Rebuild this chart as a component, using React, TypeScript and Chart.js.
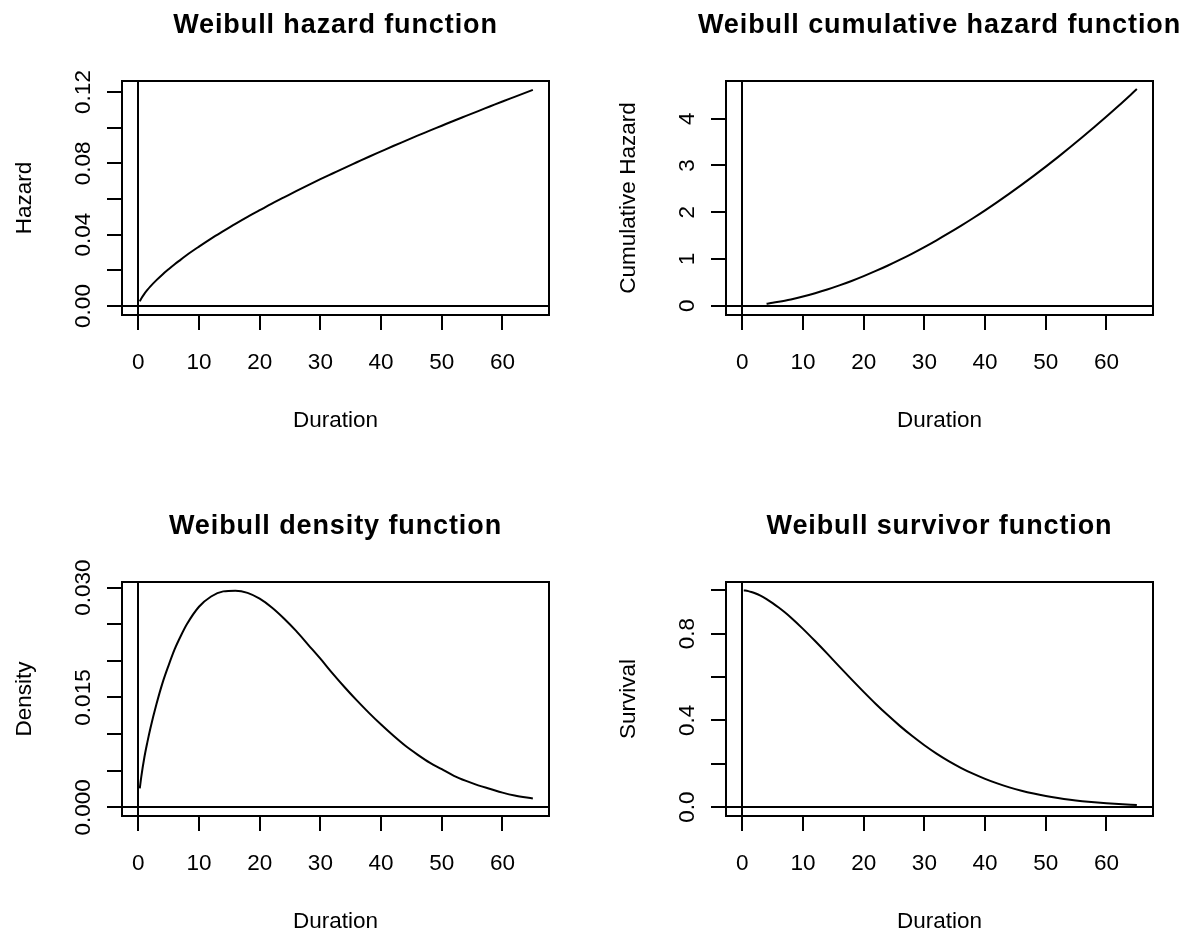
import React, { useEffect, useRef } from "react";
import { Chart, registerables } from "chart.js";

Chart.register(...registerables);

// ---- data ----
const durations = [0.25, 0.5, 1, 1.5, 2, 3, 4, 5, 6, 7, 8, 10, 12, 14, 16, 18, 20, 22, 24, 26, 28, 30, 32, 34, 36, 38, 40, 42, 44, 46, 48, 50, 52, 54, 56, 58, 60, 62, 65];

const hazardValues = [0.0026, 0.0042, 0.0068, 0.009, 0.011, 0.0145, 0.0177, 0.0206, 0.0234, 0.026, 0.0286, 0.0333, 0.0378, 0.042, 0.0461, 0.05, 0.0537, 0.0574, 0.0609, 0.0644, 0.0678, 0.0711, 0.0743, 0.0775, 0.0806, 0.0837, 0.0867, 0.0897, 0.0926, 0.0955, 0.0983, 0.1011, 0.1039, 0.1066, 0.1093, 0.112, 0.1147, 0.1173, 0.1212];

const densityValues = [0.0026, 0.0042, 0.0068, 0.0089, 0.0108, 0.0141, 0.017, 0.0194, 0.0216, 0.0234, 0.025, 0.0274, 0.0288, 0.0295, 0.0296, 0.0293, 0.0285, 0.0273, 0.0258, 0.0241, 0.0222, 0.0203, 0.0183, 0.0164, 0.0146, 0.0129, 0.0113, 0.0098, 0.0084, 0.0072, 0.0061, 0.0052, 0.0043, 0.0036, 0.003, 0.0025, 0.002, 0.0016, 0.0012];

const survivalValues = [0.9996, 0.9988, 0.996, 0.9921, 0.9872, 0.9747, 0.9589, 0.9408, 0.9204, 0.8985, 0.8746, 0.822, 0.7657, 0.7075, 0.6479, 0.5892, 0.5315, 0.4757, 0.4232, 0.3734, 0.3276, 0.2854, 0.2468, 0.2122, 0.1814, 0.1541, 0.1302, 0.1092, 0.0911, 0.0755, 0.0623, 0.0511, 0.0417, 0.0338, 0.0273, 0.0219, 0.0175, 0.0139, 0.0097];

const cumDurations = [4, 5, 6, 7, 8, 10, 12, 14, 16, 18, 20, 22, 24, 26, 28, 30, 32, 34, 36, 38, 40, 42, 44, 46, 48, 50, 52, 54, 56, 58, 60, 62, 65];

const cumHazardValues = [0.042, 0.061, 0.083, 0.107, 0.134, 0.196, 0.267, 0.346, 0.434, 0.529, 0.632, 0.743, 0.86, 0.985, 1.116, 1.254, 1.399, 1.55, 1.707, 1.87, 2.039, 2.215, 2.396, 2.583, 2.776, 2.974, 3.178, 3.387, 3.601, 3.821, 4.047, 4.277, 4.633];

// ---- tick values / labels ----
const xTicks = [0, 10, 20, 30, 40, 50, 60];
const xTickLabels = ["0", "10", "20", "30", "40", "50", "60"];

const hazardTicks = [0, 0.02, 0.04, 0.06, 0.08, 0.1, 0.12];
const hazardTickLabels = ["0.00", "", "0.04", "", "0.08", "", "0.12"];

const cumTicks = [0, 1, 2, 3, 4];
const cumTickLabels = ["0", "1", "2", "3", "4"];

const densityTicks = [0, 0.005, 0.01, 0.015, 0.02, 0.025, 0.03];
const densityTickLabels = ["0.000", "", "", "0.015", "", "", "0.030"];

const survivalTicks = [0, 0.2, 0.4, 0.6, 0.8, 1.0];
const survivalTickLabels = ["0.0", "", "0.4", "", "0.8", ""];

const X_MIN = -2.68;
const X_MAX = 67.66;

const FONT = '"Liberation Sans", Arial, Helvetica, sans-serif';

type PanelSpec = {
  title: string;
  yTitle: string;
  xs: number[];
  ys: number[];
  yMin: number;
  yMax: number;
  yTicks: number[];
  yLabels: string[];
  left: number;
  top: number;
  w: number;
  h: number;
  pad: { left: number; top: number; right: number; bottom: number };
};

const panels: PanelSpec[] = [
  {
    title: "Weibull hazard function",
    yTitle: "Hazard",
    xs: durations,
    ys: hazardValues,
    yMin: -0.00505,
    yMax: 0.12617,
    yTicks: hazardTicks,
    yLabels: hazardTickLabels,
    left: 0,
    top: 0,
    w: 597,
    h: 468,
    pad: { left: 122, top: 81, right: 48, bottom: 153 },
  },
  {
    title: "Weibull cumulative hazard function",
    yTitle: "Cumulative Hazard",
    xs: cumDurations,
    ys: cumHazardValues,
    yMin: -0.199,
    yMax: 4.806,
    yTicks: cumTicks,
    yLabels: cumTickLabels,
    left: 597,
    top: 0,
    w: 596,
    h: 468,
    pad: { left: 129, top: 81, right: 40, bottom: 153 },
  },
  {
    title: "Weibull density function",
    yTitle: "Density",
    xs: durations,
    ys: densityValues,
    yMin: -0.00119,
    yMax: 0.03078,
    yTicks: densityTicks,
    yLabels: densityTickLabels,
    left: 0,
    top: 468,
    w: 597,
    h: 468,
    pad: { left: 122, top: 114, right: 48, bottom: 120 },
  },
  {
    title: "Weibull survivor function",
    yTitle: "Survival",
    xs: durations,
    ys: survivalValues,
    yMin: -0.041,
    yMax: 1.038,
    yTicks: survivalTicks,
    yLabels: survivalTickLabels,
    left: 597,
    top: 468,
    w: 596,
    h: 468,
    pad: { left: 129, top: 114, right: 40, bottom: 120 },
  },
];

function makeDecorPlugin(p: PanelSpec) {
  return {
    id: "rBaseDecor",
    afterDatasetsDraw(chart: any) {
      const { ctx, chartArea: a, scales } = chart;
      const xs = scales.x;
      const ys = scales.y;
      ctx.save();
      ctx.strokeStyle = "#000";
      ctx.lineWidth = 2;
      ctx.lineCap = "butt";

      // reference lines at x = 0 and y = 0
      const x0 = Math.round(xs.getPixelForValue(0));
      const y0 = Math.round(ys.getPixelForValue(0));
      ctx.beginPath();
      ctx.moveTo(x0, a.top);
      ctx.lineTo(x0, a.bottom);
      ctx.moveTo(a.left, y0);
      ctx.lineTo(a.right, y0);
      ctx.stroke();

      // box
      ctx.strokeRect(a.left, a.top, a.right - a.left, a.bottom - a.top);

      // tick marks
      ctx.beginPath();
      xTicks.forEach((v) => {
        const px = Math.round(xs.getPixelForValue(v));
        ctx.moveTo(px, a.bottom);
        ctx.lineTo(px, a.bottom + 15);
      });
      p.yTicks.forEach((v) => {
        const py = Math.round(ys.getPixelForValue(v));
        ctx.moveTo(a.left - 15, py);
        ctx.lineTo(a.left, py);
      });
      ctx.stroke();

      // tick labels
      ctx.fillStyle = "#000";
      ctx.font = `22.5px ${FONT}`;
      ctx.textAlign = "center";
      ctx.textBaseline = "alphabetic";
      xTicks.forEach((v, i) => {
        ctx.fillText(xTickLabels[i], xs.getPixelForValue(v), a.bottom + 54);
      });
      p.yTicks.forEach((v, i) => {
        const lab = p.yLabels[i];
        if (!lab) return;
        ctx.save();
        ctx.translate(a.left - 32.5, ys.getPixelForValue(v));
        ctx.rotate(-Math.PI / 2);
        ctx.fillText(lab, 0, 0);
        ctx.restore();
      });

      // axis titles
      ctx.fillText("Duration", (a.left + a.right) / 2, a.bottom + 112);
      ctx.save();
      ctx.translate(a.left - 91.5, (a.top + a.bottom) / 2);
      ctx.rotate(-Math.PI / 2);
      ctx.fillText(p.yTitle, 0, 0);
      ctx.restore();

      // main title
      ctx.font = `bold 27px ${FONT}`;
      (ctx as any).letterSpacing = "0.9px";
      ctx.fillText(p.title, (a.left + a.right) / 2, a.top - 48);
      ctx.restore();
    },
  };
}

function Panel({ p }: { p: PanelSpec }) {
  const ref = useRef<HTMLCanvasElement | null>(null);
  useEffect(() => {
    if (!ref.current) return;
    const chart = new Chart(ref.current, {
      type: "line",
      data: {
        datasets: [
          {
            data: p.xs.map((x, i) => ({ x, y: p.ys[i] })),
            borderColor: "#000",
            borderWidth: 2,
            pointRadius: 0,
            cubicInterpolationMode: "monotone",
            fill: false,
          } as any,
        ],
      },
      options: {
        animation: false,
        responsive: false,
        devicePixelRatio: 1,
        events: [],
        layout: { padding: p.pad },
        plugins: {
          legend: { display: false },
          tooltip: { enabled: false },
          title: { display: false },
        },
        scales: {
          x: { type: "linear", min: X_MIN, max: X_MAX, display: false },
          y: { type: "linear", min: p.yMin, max: p.yMax, display: false },
        },
      },
      plugins: [makeDecorPlugin(p)],
    });
    return () => chart.destroy();
  }, [p]);
  return (
    <canvas
      ref={ref}
      width={p.w}
      height={p.h}
      style={{ position: "absolute", left: p.left, top: p.top, width: p.w, height: p.h }}
    />
  );
}

export default function App() {
  return (
    <div
      style={{
        position: "absolute",
        left: 0,
        top: 0,
        width: 1193,
        height: 936,
        background: "#fff",
        overflow: "hidden",
      }}
    >
      {panels.map((p) => (
        <Panel key={p.title} p={p} />
      ))}
    </div>
  );
}
